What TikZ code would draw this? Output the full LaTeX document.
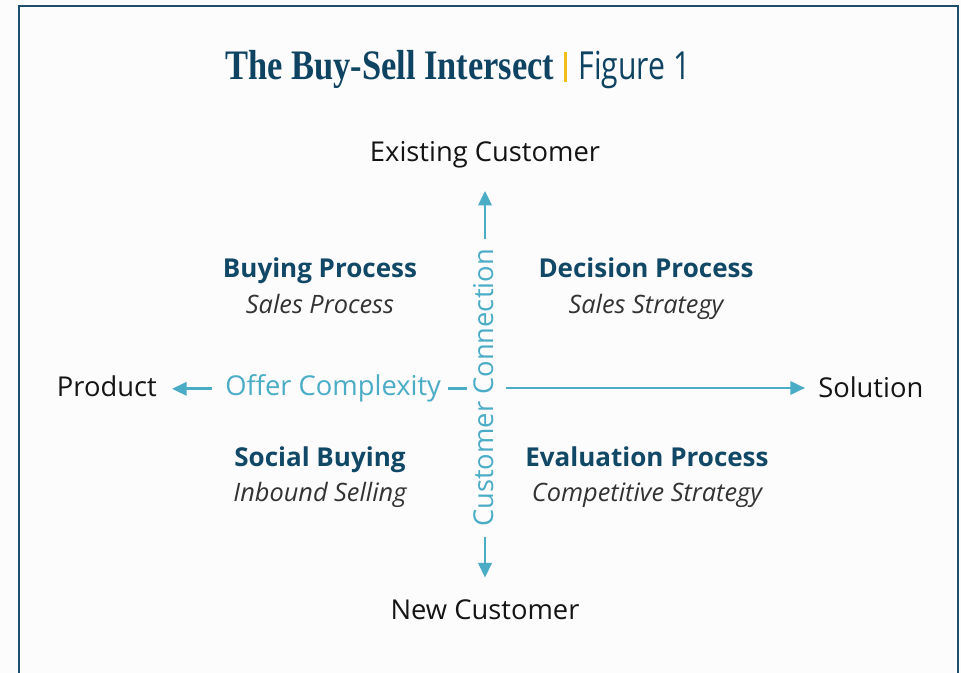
\documentclass[tikz,border=0pt]{standalone}
\usepackage{fontspec}
\setmainfont{Open Sans}
\newfontfamily\titlefont{Liberation Serif}
\usetikzlibrary{arrows.meta}
\definecolor{framec}{HTML}{1D4E6B}
\definecolor{titlec}{HTML}{0E4462}
\definecolor{barc}{HTML}{F2BE1A}
\definecolor{axisc}{HTML}{4BACC6}
\definecolor{headc}{HTML}{104866}
\definecolor{subc}{HTML}{333333}
\definecolor{labelc}{HTML}{141414}
\definecolor{bgc}{HTML}{FCFCFC}

\begin{document}
\begin{tikzpicture}[x=0.75pt,y=-0.75pt,
    axis/.style={draw=axisc, line width=2pt},
    tip/.style={-{Triangle[length=11pt,width=10pt]}},
    lbl/.style={inner sep=0pt, text=labelc, font=\fontsize{20.5}{24}\selectfont},
    axlbl/.style={inner sep=0pt, text=axisc, font=\fontsize{20.5}{24}\selectfont},
    head/.style={inner sep=0pt, text=headc, font=\fontsize{19.5}{23}\selectfont\bfseries},
    sub/.style={inner sep=0pt, text=subc, font=\fontsize{19}{23}\selectfont\itshape}]
    \useasboundingbox (0,0) rectangle (961,673);
    \fill[bgc] (0,0) rectangle (961,673);
    \draw[framec, line width=1.5pt] (19,690)--(19,6)--(958,6)--(958,690);
    % title
    \node[inner sep=0pt, anchor=base west, text=titlec] (title) at (225,80)
        {{\titlefont\fontsize{31.5}{36}\selectfont\bfseries\scalebox{0.82}[1]{The Buy-Sell Intersect}}%
         \hspace{7pt}\textcolor{barc}{\rule[-1.5pt]{2.2pt}{22.5pt}}\hspace{9pt}%
         {\normalfont\fontsize{29}{34}\selectfont\scalebox{0.78}[1]{Figure 1}}};
    % ends of the axes
    \node[lbl, anchor=base] (exist) at (485,162) {Existing Customer};
    \node[lbl, anchor=base] (new) at (485,619) {New Customer};
    \node[lbl, anchor=base east] (prod) at (157,397) {Product};
    \node[lbl, anchor=base west] (sol) at (818,398) {Solution};
    \node[axlbl, anchor=base west] (offer) at (225,396) {Offer Complexity};
    \node[axlbl, anchor=base, rotate=90] (conn) at (493,388) {Customer Connection};
    % quadrants
    \node[head, anchor=base] (buy) at (320,278) {Buying Process};
    \node[sub, anchor=base] (buysub) at (320,314) {Sales Process};
    \node[head, anchor=base] (dec) at (646,278) {Decision Process};
    \node[sub, anchor=base] (decsub) at (646,314) {Sales Strategy};
    \node[head, anchor=base] (soc) at (320,467) {Social Buying};
    \node[sub, anchor=base] (socsub) at (320,502) {Inbound Selling};
    \node[head, anchor=base] (eva) at (647,467) {Evaluation Process};
    \node[sub, anchor=base] (evasub) at (647,502) {Competitive Strategy};
    % axes
    \draw[axis, tip, shorten <=7.5pt, shorten >=16.5pt] (conn.east -| exist.south) -- (exist.south);
    \draw[axis, tip, shorten <=7.5pt, shorten >=16pt] (conn.west -| new.north) -- (new.north);
    \draw[axis, tip, shorten <=9.75pt, shorten >=11.25pt] (offer.west) -- (offer.west -| prod.east);
    \draw[axis, shorten <=5pt, shorten >=4.5pt] (offer.east) -- (offer.east -| conn.north);
    \draw[axis, tip, shorten <=9pt, shorten >=9.75pt] (conn.south) -- (conn.south -| sol.west);
\end{tikzpicture}
\end{document}
